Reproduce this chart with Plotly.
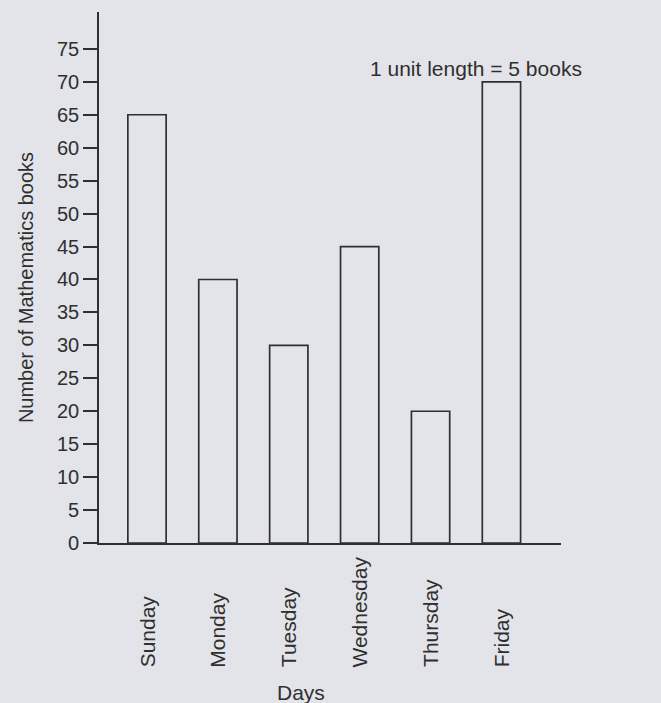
import plotly.graph_objects as go

days = ["Sunday", "Monday", "Tuesday", "Wednesday", "Thursday", "Friday"]
books = [65, 40, 30, 45, 20, 70]
y_ticks = list(range(0, 80, 5))

BG = "#e3e4e9"
INK = "#2f2f2f"
FONT = "Liberation Sans, Arial, sans-serif"

fig = go.Figure()
fig.add_trace(go.Bar(
    x=days, y=books, width=0.54,
    marker=dict(color="rgba(0,0,0,0)", line=dict(color=INK, width=1.7)),
    showlegend=False,
))

# day names under the axis, bottom-aligned like the textbook figure
for d in days:
    fig.add_annotation(
        x=d, xref="x", y=-0.238, yref="paper",
        text=d, textangle=-90, showarrow=False,
        xanchor="center", yanchor="bottom",
        font=dict(family=FONT, size=21, color=INK),
    )

fig.add_annotation(x=0.437, y=-0.307, xref="paper", yref="paper", text="Days",
                   xanchor="center", yanchor="bottom",
                   showarrow=False, font=dict(family=FONT, size=21, color=INK))
fig.add_annotation(x=-0.158, y=0.48, xref="paper", yref="paper",
                   text="Number of Mathematics books", textangle=-90,
                   xanchor="center", yanchor="middle",
                   showarrow=False, font=dict(family=FONT, size=20, color=INK))
fig.add_annotation(x=0.815, y=0.8945, xref="paper", yref="paper",
                   text="1 unit length = 5 books",
                   xanchor="center", yanchor="middle",
                   showarrow=False, font=dict(family=FONT, size=21, color=INK))

fig.update_layout(
    width=661, height=703,
    margin=dict(l=99, r=100, t=12, b=160),
    paper_bgcolor=BG, plot_bgcolor=BG,
    font=dict(family=FONT, size=20, color=INK),
    xaxis=dict(range=[-0.677, 5.84], showticklabels=False, ticks="",
               showgrid=False, zeroline=False, showline=True,
               linecolor=INK, linewidth=1.7),
    yaxis=dict(range=[0, 80.6], tickvals=y_ticks, ticks="outside",
               ticklen=14, tickwidth=1.7, tickcolor=INK,
               showgrid=False, zeroline=False, showline=True,
               linecolor=INK, linewidth=1.7,
               tickfont=dict(family=FONT, size=20, color=INK)),
)

fig.write_html("out.html", config={"displayModeBar": False},
               post_script="document.body.style.margin='0';")
